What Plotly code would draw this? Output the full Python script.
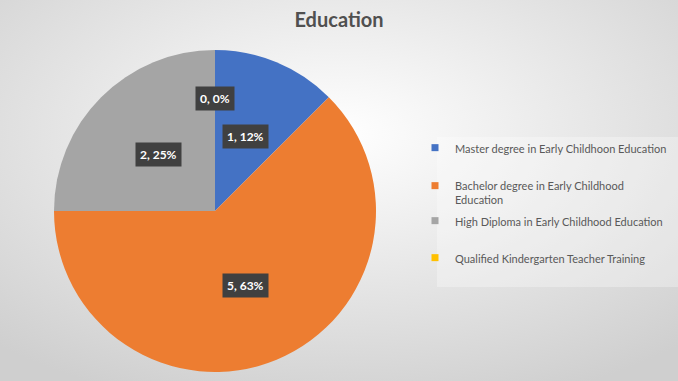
import math
import base64
import plotly.graph_objects as go

# ---- data ----
labels = [
    "Master degree in Early Childhoon Education",
    "Bachelor degree in Early Childhood Education",
    "High Diploma in Early Childhood Education",
    "Qualified Kindergarten Teacher Training",
]
legend_labels = [
    "Master degree in Early Childhoon Education",
    "Bachelor degree in Early Childhood<br>Education",
    "High Diploma in Early Childhood Education",
    "Qualified Kindergarten Teacher Training",
]
values = [1, 5, 2, 0]
pct_labels = ["12%", "63%", "25%", "0%"]
colors = ["#4472C4", "#ED7D31", "#A5A5A5", "#FFC000"]
title_text = "Education"

W, H = 678, 381
# pie geometry (pixels)
CX, CY, R = 215, 211, 161

fig = go.Figure()

fig.add_trace(go.Pie(
    labels=labels, values=values, sort=False, direction="clockwise", rotation=0,
    marker=dict(colors=colors, line=dict(width=0)),
    textinfo="none", hoverinfo="label+value+percent", showlegend=False,
    domain=dict(x=[(CX - R) / W, (CX + R) / W], y=[1 - (CY + R) / H, 1 - (CY - R) / H]),
))

# data labels at the middle angle of each slice
total = sum(values)
start = 0.0
for v, p in zip(values, pct_labels):
    span = 360.0 * v / total
    mid = math.radians(start + span / 2)
    f = 0.5 if v > 0 else 0.7
    x = (CX + f * R * math.sin(mid)) / W
    y = 1 - (CY - f * R * math.cos(mid)) / H
    fig.add_annotation(
        x=x, y=y, xref="paper", yref="paper", xanchor="center", yanchor="middle",
        text=f"<b>{v}, {p}</b>", showarrow=False,
        font=dict(family="Lato, 'Open Sans', sans-serif", size=12, color="white"),
        bgcolor="#404040", borderpad=4,
    )
    start += span

# legend carriers, one legend each so the spacing can match
legend_names = ["legend", "legend2", "legend3", "legend4"]
for name, lab, col in zip(legend_names, legend_labels, colors):
    fig.add_trace(go.Scatter(
        x=[None], y=[None], mode="markers", name=lab, legend=name,
        marker=dict(symbol="square", size=7, color=col), showlegend=True,
        hoverinfo="skip",
    ))

legend_tops = [134, 172, 207, 244]
leg_font = dict(family="Lato, 'Open Sans', sans-serif", size=11, color="#595959")
legend_layout = {}
for name, top in zip(legend_names, legend_tops):
    legend_layout[name] = dict(
        x=(455 - 40) / W, y=1 - top / H, xanchor="left", yanchor="top",
        bgcolor="rgba(0,0,0,0)", font=leg_font, valign="top",
        borderwidth=0, itemclick=False, itemdoubleclick=False,
    )

# radial gradient background as inline svg
svg = (
    f'<svg xmlns="http://www.w3.org/2000/svg" width="{W}" height="{H}">'
    '<defs><radialGradient id="g" cx="50%" cy="35%" r="75%">'
    '<stop offset="0" stop-color="#ffffff"/><stop offset="1" stop-color="#cfcfcf"/>'
    '</radialGradient></defs>'
    f'<rect width="{W}" height="{H}" fill="url(#g)"/></svg>'
)
svg_uri = "data:image/svg+xml;base64," + base64.b64encode(svg.encode()).decode()

fig.update_layout(
    width=W, height=H,
    margin=dict(l=0, r=0, t=0, b=0),
    paper_bgcolor="white", plot_bgcolor="rgba(0,0,0,0)",
    xaxis=dict(visible=False), yaxis=dict(visible=False),
    title=dict(text=title_text, x=0.5, xanchor="center", y=1 - 20 / H, yanchor="middle",
               font=dict(family="Lato, 'Open Sans', sans-serif", size=20, color="#505050", weight="bold")),
    images=[dict(source=svg_uri, xref="paper", yref="paper", x=0, y=1, sizex=1, sizey=1,
                 sizing="stretch", layer="below")],
    shapes=[dict(type="rect", xref="paper", yref="paper",
                 x0=437 / W, x1=1, y0=1 - 287 / H, y1=1 - 137 / H,
                 fillcolor="rgba(255,255,255,0.3)", line=dict(width=0), layer="below")],
    **legend_layout,
)

fig.write_html(
    "out.html",
    config={"displayModeBar": False},
    post_script="document.body.style.margin='0px';document.body.style.overflow='hidden';",
)
